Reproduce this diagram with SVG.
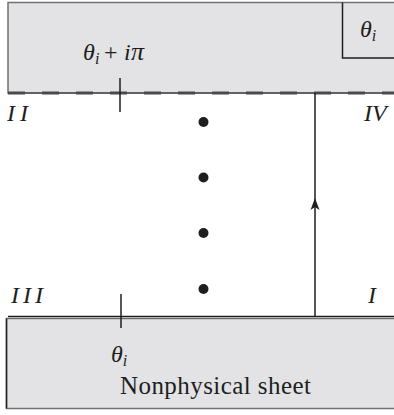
<svg xmlns="http://www.w3.org/2000/svg" width="394" height="415" viewBox="0 0 394 415">
<style>
.sheet{fill:#e3e3e5;stroke:#707070;stroke-width:1.5}
.ln{stroke:#1e1e1e;stroke-width:1.5;fill:none}
.m{font-family:"Liberation Serif","DejaVu Serif",serif;font-style:italic;font-size:24px;fill:#1e1e1e}
.r{font-family:"Liberation Serif","DejaVu Serif",serif;font-size:25px;fill:#1e1e1e}
.up{font-style:normal}
.sub{font-size:16px}
.dot{fill:#1e1e1e}
</style>
<rect width="394" height="415" fill="#ffffff"/>
<g id="upper-sheet">
  <rect class="sheet" x="8" y="2.5" width="400" height="90.5"/>
  <path class="ln" d="M342.5 2.5 V58 H400" stroke-width="1.3"/>
  <line x1="8" y1="93" x2="394" y2="93" stroke="#333" stroke-width="1"/>
  <line x1="8" y1="93" x2="394" y2="93" stroke="#4a4a4a" stroke-width="3" stroke-dasharray="17 17"/>
  <text class="m" x="360" y="37">θ<tspan class="sub" dy="4">i</tspan></text>
  <text class="m" y="60"><tspan x="83">θ</tspan><tspan class="sub" x="95" dy="4">i</tspan><tspan class="up" x="104" dy="-4">+</tspan><tspan x="124">i</tspan><tspan x="131" font-size="26">π</tspan></text>
</g>
<g id="lower-sheet">
  <line class="ln" x1="8" y1="316.5" x2="394" y2="316.5"/>
  <rect class="sheet" x="6.5" y="318.5" width="400" height="90" />
  <line x1="6.5" y1="318.5" x2="6.5" y2="408.5" stroke="#222" stroke-width="1.5"/>
  <text class="m" x="111" y="362">θ<tspan class="sub" dy="4">i</tspan></text>
  <text class="r" x="120" y="394" textLength="191" lengthAdjust="spacing">Nonphysical sheet</text>
</g>
<g id="ticks">
  <line class="ln" x1="120" y1="78" x2="120" y2="112"/>
  <line class="ln" x1="121" y1="294" x2="121" y2="328"/>
</g>
<g id="connectors">
  <line class="ln" x1="315" y1="93" x2="315" y2="316"/>
  <polygon points="315,198 310.5,210 315,207 319.5,210" fill="#1e1e1e"/>
</g>
<g id="dots">
  <circle class="dot" cx="203.5" cy="122" r="5"/>
  <circle class="dot" cx="203.5" cy="177.5" r="5"/>
  <circle class="dot" cx="203.5" cy="233" r="5"/>
  <circle class="dot" cx="203.5" cy="289" r="5"/>
</g>
<g id="region-labels">
  <text class="m" x="7" y="121" letter-spacing="5">II</text>
  <text class="m" x="364" y="121" letter-spacing="0">IV</text>
  <text class="m" x="11" y="303" letter-spacing="4">III</text>
  <text class="m" x="368" y="303">I</text>
</g>
</svg>
